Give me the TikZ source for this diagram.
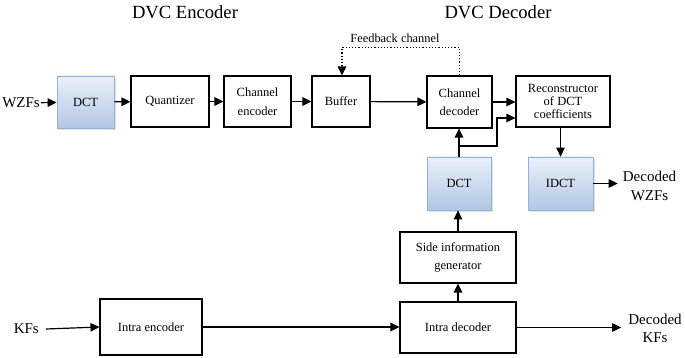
\documentclass[tikz,border=0pt]{standalone}
\usepackage{fontspec}
\setmainfont{Liberation Serif}
\usetikzlibrary{arrows.meta,shadows}
\definecolor{dctblue}{RGB}{178,199,228}
\definecolor{dctlight}{RGB}{234,240,249}
\definecolor{dctedge}{RGB}{150,178,214}

\tikzset{
  blk/.style={draw, line width=1.1pt, fill=white, align=center, inner sep=0pt, font=\fontsize{12.5}{18.5}\selectfont},
  dctblk/.style={draw=dctedge, line width=0.8pt, top color=dctlight, bottom color=dctblue, align=center, inner sep=0pt,
    font=\fontsize{12.5}{18.5}\selectfont, drop shadow={shadow xshift=2pt, shadow yshift=-2pt, fill=gray!40, opacity=0.6}},
  io/.style={align=center, inner sep=1pt, font=\fontsize{15}{18.5}\selectfont},
  arr/.style={line width=1.2pt, -{Triangle[length=9pt,width=8.5pt]}},
  fb/.style={line width=1.2pt, dotted, -{Triangle[length=9pt,width=8.5pt]}}
}

\begin{document}
\begin{tikzpicture}[x=1pt,y=-1pt]
\useasboundingbox (0,0) rectangle (685,358);
\node[font=\fontsize{18.6}{22}\selectfont] (enctitle) at (185,12) {DVC Encoder};
\node[font=\fontsize{18.6}{22}\selectfont] (dectitle) at (498,12) {DVC Decoder};

\node[dctblk, minimum width=57pt, minimum height=52pt] (dcta) at (85.5,102) {DCT};
\node[blk, minimum width=78pt, minimum height=51pt] (quant) at (170,101.5) {Quantizer};
\node[blk, minimum width=67pt, minimum height=51pt] (chenc) at (257.5,101.5) {Channel\\encoder};
\node[blk, minimum width=58pt, minimum height=51pt] (buffer) at (341,101.5) {Buffer};
\node[blk, minimum width=65pt, minimum height=52pt] (chdec) at (459.5,102) {Channel\\decoder};
\node[blk, minimum width=94pt, minimum height=51pt, font=\fontsize{12.5}{13}\selectfont] (recon) at (563,101.5) {Reconstructor\\of DCT\\coefficients};
\node[dctblk, minimum width=64pt, minimum height=53pt] (dctb) at (459,183.5) {DCT};
\node[dctblk, minimum width=65pt, minimum height=53pt] (idct) at (560.5,183.5) {IDCT};
\node[blk, minimum width=116pt, minimum height=51pt] (sideinfo) at (458,257.5) {Side information\\generator};
\node[blk, minimum width=116pt, minimum height=51pt] (intradec) at (458,327.5) {Intra decoder};
\node[blk, minimum width=102pt, minimum height=56pt] (intraenc) at (151,327) {Intra encoder};

\node[io, anchor=east] (wzf) at (41,103) {WZFs};
\node[io, anchor=east] (kf) at (40,329) {KFs};
\node[io] (decwzf) at (649.5,186) {Decoded\\WZFs};
\node[io] (deckf) at (655,328.5) {Decoded\\KFs};
\node[font=\fontsize{12.4}{14}\selectfont] (fblabel) at (395,38) {Feedback channel};

\coordinate (split) at (459,146);
\coordinate (bend) at (497,118);

\draw[arr] (wzf) -- (dcta);
\draw[arr] (dcta) -- (quant);
\draw[arr] (quant) -- (chenc);
\draw[arr] (chenc) -- (buffer);
\draw[arr] (buffer) -- (chdec);
\draw[arr] (chdec.east) -- (chdec.east -| recon.west);
\draw[fb] (chdec.north) -- ++(0,-28) -| ([xshift=1pt]buffer.north);
\draw[arr] (dctb.north) -- (dctb.north |- chdec.south);
\draw[arr] (split) -| (bend) -- (bend -| recon.west);
\draw[arr] (recon.south -| idct.north) -- (idct.north);
\draw[arr] (idct.east) -- ([xshift=-4pt]decwzf.west |- idct.east);
\draw[arr] (sideinfo.north) -- (sideinfo.north |- dctb.south);
\draw[arr] (intradec.north) -- (intradec.north |- sideinfo.south);
\draw[arr] ([xshift=6pt]kf.east) -- (intraenc.west);
\draw[arr] (intraenc.east) -- (intraenc.east -| intradec.west);
\draw[arr] (intradec.east) -- ([xshift=-6pt]deckf.west |- intradec.east);
\end{tikzpicture}
\end{document}
